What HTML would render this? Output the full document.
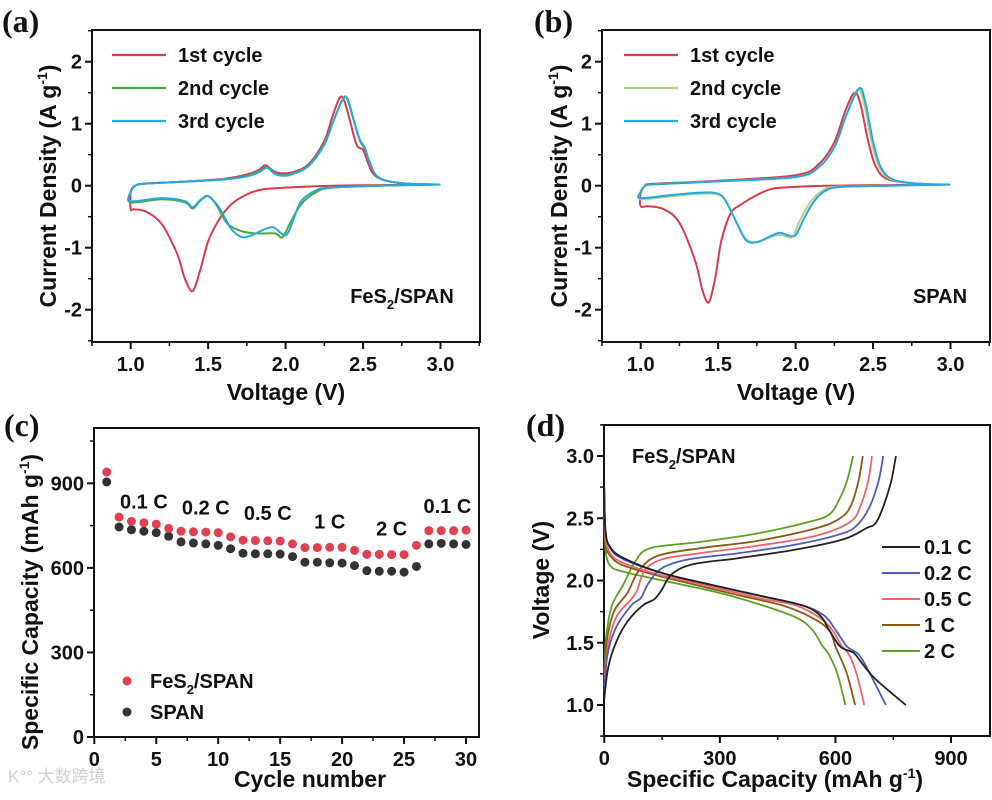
<!DOCTYPE html>
<html><head><meta charset="utf-8"><style>
body{margin:0;background:#fff}
svg{display:block;font-family:"Liberation Sans",Arial,sans-serif}
.t{font-weight:bold;font-size:20px;fill:#111}
.tt{font-weight:bold;font-size:23px;fill:#111}
.pl{font-family:"Liberation Serif",serif;font-weight:bold;font-size:32px;fill:#111}
</style></head><body>
<svg id="s" width="992" height="800" viewBox="0 0 992 800"></svg>
<script>
// ---- Panel (a) data: FeS2/SPAN CV [V, I]
const aCycle1=[[3.0,0.02],[2.6,0.01],[2.3,0.0],[2.0,-0.03],[1.85,-0.06],[1.75,-0.14],[1.65,-0.3],[1.57,-0.55],[1.5,-0.9],[1.45,-1.35],[1.4,-1.7],[1.35,-1.5],[1.3,-1.1],[1.2,-0.62],[1.1,-0.42],[1.02,-0.38],[1.0,-0.38],[1.0,-0.1],[1.03,0.0],[1.08,0.03],[1.3,0.06],[1.6,0.11],[1.75,0.18],[1.83,0.26],[1.87,0.33],[1.92,0.24],[1.97,0.2],[2.05,0.22],[2.15,0.35],[2.25,0.72],[2.3,1.1],[2.35,1.42],[2.38,1.36],[2.42,1.0],[2.46,0.65],[2.5,0.58],[2.53,0.38],[2.57,0.18],[2.65,0.08],[2.8,0.03],[3.0,0.02]];
const aCycle2=[[3.0,0.02],[2.6,0.0],[2.3,-0.03],[2.2,-0.1],[2.1,-0.3],[2.03,-0.6],[1.98,-0.83],[1.93,-0.77],[1.8,-0.77],[1.7,-0.72],[1.62,-0.6],[1.55,-0.3],[1.5,-0.17],[1.45,-0.24],[1.4,-0.37],[1.35,-0.27],[1.2,-0.22],[1.0,-0.27],[1.0,-0.1],[1.03,0.0],[1.08,0.03],[1.3,0.06],[1.6,0.1],[1.75,0.16],[1.83,0.24],[1.88,0.3],[1.93,0.2],[1.98,0.17],[2.05,0.2],[2.15,0.33],[2.25,0.68],[2.31,1.05],[2.37,1.4],[2.4,1.38],[2.44,1.05],[2.48,0.72],[2.51,0.6],[2.54,0.4],[2.58,0.18],[2.65,0.08],[2.8,0.03],[3.0,0.02]];
const aCycle3=[[3.0,0.02],[2.6,0.0],[2.3,-0.03],[2.2,-0.07],[2.1,-0.25],[2.05,-0.55],[2.0,-0.8],[1.92,-0.67],[1.85,-0.72],[1.78,-0.8],[1.72,-0.83],[1.65,-0.7],[1.57,-0.35],[1.5,-0.17],[1.45,-0.23],[1.4,-0.35],[1.35,-0.25],[1.2,-0.2],[1.0,-0.25],[1.0,-0.1],[1.03,0.0],[1.08,0.03],[1.3,0.06],[1.6,0.1],[1.75,0.15],[1.83,0.22],[1.88,0.29],[1.93,0.19],[1.98,0.16],[2.05,0.19],[2.15,0.32],[2.25,0.66],[2.31,1.05],[2.37,1.4],[2.4,1.4],[2.44,1.06],[2.48,0.74],[2.51,0.62],[2.54,0.4],[2.58,0.18],[2.65,0.08],[2.8,0.03],[3.0,0.02]];
// ---- Panel (b) data: SPAN CV
const bCycle1=[[3.0,0.02],[2.6,0.01],[2.2,0.0],[2.0,-0.02],[1.85,-0.05],[1.75,-0.15],[1.65,-0.3],[1.58,-0.45],[1.52,-0.9],[1.48,-1.5],[1.44,-1.88],[1.4,-1.7],[1.35,-1.2],[1.25,-0.6],[1.15,-0.38],[1.05,-0.33],[1.0,-0.33],[1.0,-0.12],[1.03,0.0],[1.08,0.03],[1.5,0.08],[2.0,0.17],[2.15,0.35],[2.25,0.7],[2.32,1.2],[2.38,1.5],[2.42,1.3],[2.47,0.7],[2.52,0.3],[2.6,0.1],[2.8,0.03],[3.0,0.02]];
const bCycle2=[[3.0,0.02],[2.6,0.0],[2.25,-0.02],[2.18,-0.07],[2.1,-0.25],[2.03,-0.55],[1.98,-0.82],[1.93,-0.81],[1.9,-0.79],[1.85,-0.82],[1.75,-0.91],[1.68,-0.86],[1.62,-0.6],[1.55,-0.25],[1.5,-0.14],[1.4,-0.13],[1.2,-0.17],[1.0,-0.22],[1.0,-0.1],[1.03,0.0],[1.08,0.02],[1.5,0.07],[2.0,0.14],[2.15,0.3],[2.25,0.62],[2.33,1.15],[2.4,1.55],[2.44,1.35],[2.49,0.72],[2.54,0.3],[2.62,0.1],[2.8,0.03],[3.0,0.02]];
const bCycle3=[[3.0,0.02],[2.6,0.0],[2.3,-0.02],[2.2,-0.07],[2.12,-0.25],[2.05,-0.55],[2.0,-0.8],[1.95,-0.8],[1.9,-0.76],[1.85,-0.8],[1.75,-0.91],[1.68,-0.88],[1.62,-0.6],[1.55,-0.25],[1.5,-0.13],[1.4,-0.11],[1.2,-0.15],[1.0,-0.2],[1.0,-0.1],[1.03,0.0],[1.08,0.02],[1.5,0.07],[2.0,0.14],[2.15,0.3],[2.25,0.62],[2.33,1.15],[2.41,1.57],[2.45,1.35],[2.5,0.72],[2.55,0.3],[2.63,0.1],[2.8,0.03],[3.0,0.02]];
// ---- Panel (c) data: rate capability
const cCycles=[1,2,3,4,5,6,7,8,9,10,11,12,13,14,15,16,17,18,19,20,21,22,23,24,25,26,27,28,29,30];
const cFeS2=[940,780,765,760,755,740,730,728,727,725,710,698,697,696,695,685,672,672,673,673,662,648,648,647,647,680,732,732,732,734];
const cSPAN=[905,745,735,730,725,712,692,688,685,680,668,652,650,650,649,640,620,620,618,617,608,590,588,588,585,605,685,687,685,683];
const cRateLabels=["0.1 C","0.2 C","0.5 C","1 C","2 C","0.1 C"];
const cRateX=[4,9,14,19,24,28.5];
const cRateY=[810,790,770,740,715,795];
// ---- Panel (d) data: charge/discharge [capacity, V]
const dRates=["0.1 C","0.2 C","0.5 C","1 C","2 C"];
const dDis01=[[0,2.75],[3,2.4],[15,2.27],[50,2.18],[150,2.06],[272,1.97],[400,1.88],[514,1.8],[560,1.72],[584,1.6],[612,1.47],[640,1.43],[653,1.4],[700,1.22],[783,1.0]];
const dDis02=[[0,2.7],[3,2.4],[15,2.26],[50,2.17],[150,2.06],[255,1.98],[400,1.88],[514,1.8],[570,1.72],[601,1.6],[630,1.47],[662,1.4],[690,1.25],[731,1.0]];
const dDis05=[[0,2.65],[3,2.35],[15,2.22],[50,2.14],[150,2.04],[238,1.98],[400,1.86],[497,1.8],[560,1.7],[592,1.6],[615,1.48],[636,1.4],[655,1.25],[675,1.0]];
const dDis1=[[0,2.6],[3,2.3],[15,2.2],[50,2.12],[150,2.03],[203,1.99],[350,1.88],[462,1.8],[540,1.7],[584,1.6],[600,1.47],[610,1.4],[630,1.25],[651,1.0]];
const dDis2=[[0,2.5],[3,2.25],[15,2.12],[50,2.07],[151,2.0],[300,1.9],[411,1.8],[500,1.7],[541,1.6],[565,1.48],[584,1.4],[605,1.25],[626,1.0]];
const dCh01=[[0,1.05],[10,1.3],[30,1.5],[60,1.67],[100,1.8],[130,1.85],[150,1.93],[175,2.05],[230,2.13],[350,2.18],[500,2.25],[620,2.33],[680,2.42],[704,2.46],[725,2.6],[745,2.8],[757,3.0]];
const dCh02=[[0,1.1],[8,1.4],[30,1.62],[70,1.8],[95,1.86],[115,1.98],[150,2.1],[220,2.17],[350,2.22],[500,2.29],[620,2.38],[661,2.46],[690,2.6],[712,2.8],[724,3.0]];
const dCh05=[[0,1.15],[8,1.45],[30,1.7],[70,1.85],[85,1.92],[105,2.08],[150,2.17],[250,2.22],[400,2.28],[550,2.36],[638,2.47],[665,2.6],[685,2.8],[695,3.0]];
const dCh1=[[0,1.2],[6,1.5],[25,1.75],[60,1.9],[90,2.08],[140,2.2],[250,2.26],[400,2.32],[550,2.42],[612,2.5],[640,2.6],[660,2.8],[671,3.0]];
const dCh2=[[0,1.25],[5,1.55],[20,1.8],[50,1.97],[80,2.15],[120,2.26],[250,2.31],[400,2.38],[530,2.47],[584,2.53],[610,2.65],[630,2.8],[646,3.0]];

const NS="http://www.w3.org/2000/svg";
const S=document.getElementById('s');
function mk(tag,attrs,parent,txt){const e=document.createElementNS(NS,tag);for(const k in attrs)e.setAttribute(k,attrs[k]);if(txt!==undefined)e.textContent=txt;(parent||S).appendChild(e);return e;}
function scale(d0,d1,r0,r1){return v=>r0+(v-d0)/(d1-d0)*(r1-r0);}
function smooth(pts){let d="M"+pts[0][0].toFixed(1)+","+pts[0][1].toFixed(1);for(let i=0;i<pts.length-1;i++){const p0=pts[Math.max(0,i-1)],p1=pts[i],p2=pts[i+1],p3=pts[Math.min(pts.length-1,i+2)];const c1=[p1[0]+(p2[0]-p0[0])/6,p1[1]+(p2[1]-p0[1])/6],c2=[p2[0]-(p3[0]-p1[0])/6,p2[1]-(p3[1]-p1[1])/6];d+="C"+c1[0].toFixed(1)+","+c1[1].toFixed(1)+" "+c2[0].toFixed(1)+","+c2[1].toFixed(1)+" "+p2[0].toFixed(1)+","+p2[1].toFixed(1);}return d;}

function axes(g,L,R,T,B,xs,ys,xMaj,xMin,yMaj,yMin,xFmt,yFmt){
  const fr=mk('rect',{x:L,y:T,width:R-L,height:B-T,fill:'none',stroke:'#111','stroke-width':2},g);
  
  
  xMin.forEach(v=>{mk('line',{x1:xs(v),x2:xs(v),y1:B,y2:B+4,stroke:'#111','stroke-width':1.5},g);});
  xMaj.forEach(v=>{mk('line',{x1:xs(v),x2:xs(v),y1:B,y2:B+7,stroke:'#111','stroke-width':2},g);
    const t=mk('text',{x:xs(v),y:B+29,'text-anchor':'middle',class:'t'},g,xFmt(v));
    
    });
  yMin.forEach(v=>{mk('line',{x1:L,x2:L-4,y1:ys(v),y2:ys(v),stroke:'#111','stroke-width':1.5},g);});
  yMaj.forEach(v=>{mk('line',{x1:L,x2:L-7,y1:ys(v),y2:ys(v),stroke:'#111','stroke-width':2},g);
    const t=mk('text',{x:L-10,y:ys(v)+7,'text-anchor':'end',class:'t'},g,yFmt(v));
    
    });
}
function range(a,b,s){const r=[];for(let v=a;v<=b+1e-9;v+=s)r.push(+v.toFixed(4));return r;}

// ---- CV panels
function cvPanel(off,letter,cycles,colors,sample,ytX,xtX,legX,sX){
  const g=mk('g',{});
  
  
  const L=92+off,R=480+off,T=30,B=342;
  const xs=scale(1.0,3.0,130.7+off,440.5+off),ys=scale(0,2,185.7,61.7);
  axes(g,L,R,T,B,xs,ys,range(1,3,0.5),range(0.75,3.25,0.25),range(-2,2,1),range(-2.5,2.5,0.5),v=>v.toFixed(1),v=>String(v));
  cycles.forEach((c,i)=>{const p=mk('path',{d:smooth(c.map(q=>[xs(q[0]),ys(q[1])])),fill:'none',stroke:colors[i],'stroke-width':2},g);
    
    });
  const names=["1st cycle","2nd cycle","3rd cycle"];
  names.forEach((n,i)=>{const y=55+i*33;const lg=mk('g',{},g);
    
    
    mk('line',{x1:legX,x2:legX+54,y1:y,y2:y,stroke:colors[i],'stroke-width':2.2},lg);
    mk('text',{x:legX+66,y:y+7,class:'t'},lg,n);});
  const st=mk('text',{x:sX,y:303,class:'t','text-anchor':'middle'},g);
  
  
  if(sample==='FeS2'){st.innerHTML='FeS<tspan font-size="13" dy="6">2</tspan><tspan dy="-6">/SPAN</tspan>';}else st.textContent='SPAN';
  const yt=mk('text',{transform:`translate(${ytX},186) rotate(-90)`,'text-anchor':'middle',class:'tt'},g);
  yt.innerHTML='Current Density (A g<tspan font-size="14" dy="-9">-1</tspan><tspan dy="9">)</tspan>';
  
  
  const xt=mk('text',{x:xtX,y:400,'text-anchor':'middle',class:'tt'},g,'Voltage (V)');
  
  
  const pl=mk('text',{x:2+off+(off?22:0),y:32,class:'pl'},g,'('+letter+')');
  
  
}
cvPanel(0,'a',[aCycle1,aCycle2,aCycle3],['#d93a4b','#3fae3a','#2aa6df'],'FeS2',56,286,112,402);
cvPanel(510,'b',[bCycle1,bCycle2,bCycle3],['#d93a4b','#a9d48c','#2aa6df'],'SPAN',567,796,624,940);

// ---- Panel (c)
(function(){
  const g=mk('g',{});
  
  
  const L=94,R=479,T=428,B=737;
  const xs=scale(0,30,94.3,466),ys=scale(0,900,737,483.3);
  axes(g,L,R,T,B,xs,ys,range(0,30,5),range(2.5,30,2.5),range(0,900,300),range(150,1050,150),v=>String(v),v=>String(v));
  cCycles.forEach((c,i)=>{
    const p=mk('circle',{cx:xs(c),cy:ys(cSPAN[i]),r:4.5,fill:'#333'},g);
    
    
    const q=mk('circle',{cx:xs(c),cy:ys(cFeS2[i]),r:4.5,fill:'#e0404f'},g);
    
    
  });
  cRateLabels.forEach((t,i)=>{const e=mk('text',{x:xs(cRateX[i]),y:ys(cRateY[i]),'text-anchor':'middle',class:'t'},g,t);
    
    });
  const l1=mk('g',{},g);
  
  
  mk('circle',{cx:127,cy:681,r:4.5,fill:'#e0404f'},l1);
  const t1=mk('text',{x:150,y:688,class:'t'},l1);t1.innerHTML='FeS<tspan font-size="13" dy="6">2</tspan><tspan dy="-6">/SPAN</tspan>';
  const l2=mk('g',{},g);
  
  
  mk('circle',{cx:127,cy:712,r:4.5,fill:'#333'},l2);
  mk('text',{x:150,y:719,class:'t'},l2,'SPAN');
  const yt=mk('text',{transform:'translate(38,602) rotate(-90)','text-anchor':'middle',class:'tt'},g);
  yt.innerHTML='Specific Capacity (mAh g<tspan font-size="14" dy="-9">-1</tspan><tspan dy="9">)</tspan>';
  
  
  const xt=mk('text',{x:310,y:787,'text-anchor':'middle',class:'tt'},g,'Cycle number');
  
  
  const pl=mk('text',{x:4,y:436,class:'pl'},g,'(c)');
  
  
  const wm=mk('text',{x:8,y:782,'font-size':'17',fill:'#d0d0d0','font-family':'"Liberation Sans","Noto Sans CJK SC",sans-serif'},g,'K°° 大数跨境');
  
  
})();

// ---- Panel (d)
(function(){
  const g=mk('g',{});
  
  
  const L=604,R=990,T=425,B=736;
  const xs=scale(0,900,604.3,951),ys=scale(1,3,705,456);
  axes(g,L,R,T,B,xs,ys,range(0,900,300),range(150,1050,150),range(1,3,0.5),range(0.75,3.25,0.25),v=>String(v),v=>v.toFixed(1));
  const cols=['#222222','#4b5cc0','#f0636b','#8a5a12','#5aa322'];
  const dis=[dDis01,dDis02,dDis05,dDis1,dDis2],ch=[dCh01,dCh02,dCh05,dCh1,dCh2];
  for(let i=4;i>=0;i--){
    const p=mk('path',{d:smooth(dis[i].map(q=>[xs(q[0]),ys(q[1])])),fill:'none',stroke:cols[i],'stroke-width':1.8},g);
    
    
    const c=mk('path',{d:smooth(ch[i].map(q=>[xs(q[0]),ys(q[1])])),fill:'none',stroke:cols[i],'stroke-width':1.8},g);
    
    
  }
  dRates.forEach((r,i)=>{const y=547+i*26;const lg=mk('g',{},g);
    
    
    mk('line',{x1:882,x2:920,y1:y,y2:y,stroke:cols[i],'stroke-width':2},lg);
    mk('text',{x:924,y:y+7,class:'t'},lg,r);});
  const st=mk('text',{x:632,y:463,class:'t'},g);st.innerHTML='FeS<tspan font-size="13" dy="6">2</tspan><tspan dy="-6">/SPAN</tspan>';
  
  
  const yt=mk('text',{transform:'translate(549,580) rotate(-90)','text-anchor':'middle',class:'tt'},g,'Voltage (V)');
  
  
  const xt=mk('text',{x:775,y:787,'text-anchor':'middle',class:'tt'},g);
  xt.innerHTML='Specific Capacity (mAh g<tspan font-size="14" dy="-9">-1</tspan><tspan dy="9">)</tspan>';
  
  
  const pl=mk('text',{x:526,y:436,class:'pl'},g,'(d)');
  
  
})();
</script>
</body></html>
